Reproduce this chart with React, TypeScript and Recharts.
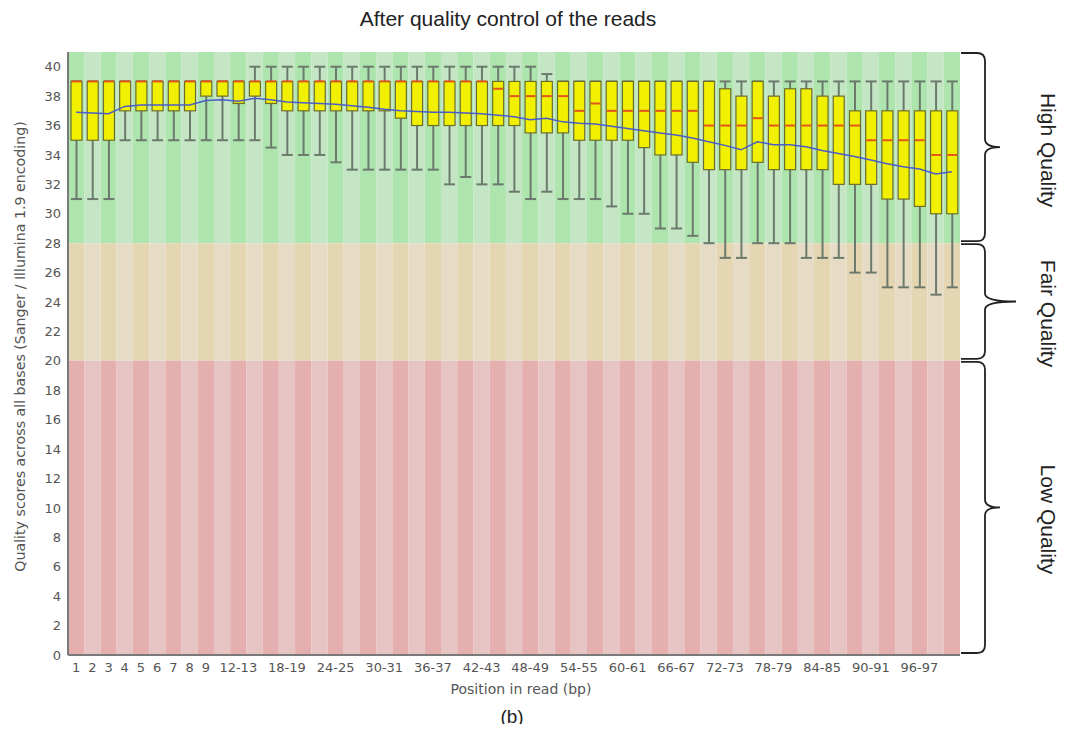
import React from 'react';
import { ComposedChart, Bar, Line, XAxis, YAxis, ReferenceArea } from 'recharts';

// Per-base quality (FastQC style)
const POSITIONS = [
    '1', '2', '3', '4', '5', '6', '7', '8', '9',
    '10-11', '12-13', '14-15', '16-17', '18-19', '20-21', '22-23', '24-25', '26-27', '28-29',
    '30-31', '32-33', '34-35', '36-37', '38-39', '40-41', '42-43', '44-45', '46-47', '48-49',
    '50-51', '52-53', '54-55', '56-57', '58-59', '60-61', '62-63', '64-65', '66-67', '68-69',
    '70-71', '72-73', '74-75', '76-77', '78-79', '80-81', '82-83', '84-85', '86-87', '88-89',
    '90-91', '92-93', '94-95', '96-97', '98-99', '100-101',
];

const SHOWN_TICKS = [
    '1', '2', '3', '4', '5', '6', '7', '8', '9',
    '12-13', '18-19', '24-25', '30-31', '36-37', '42-43', '48-49', '54-55',
    '60-61', '66-67', '72-73', '78-79', '84-85', '90-91', '96-97',
];

const LOWER = [
    31, 31, 31, 35, 35, 35, 35, 35, 35, 35, 35, 35, 34.5, 34, 34, 34, 33.5, 33, 33, 33,
    33, 33, 33, 32, 32.5, 32, 32, 31.5, 31, 31.5, 31, 31, 31, 30.5, 30, 30, 29, 29, 28.5, 28,
    27, 27, 28, 28, 28, 27, 27, 27, 26, 26, 25, 25, 25, 24.5, 25,
];
const Q1 = [
    35, 35, 35, 37, 37, 37, 37, 37, 38, 38, 37.5, 38, 37.5, 37, 37, 37, 37, 37, 37, 37,
    36.5, 36, 36, 36, 36, 36, 36, 36, 35.5, 35.5, 35.5, 35, 35, 35, 35, 34.5, 34, 34, 33.5, 33,
    33, 33, 33.5, 33, 33, 33, 33, 32, 32, 32, 31, 31, 30.5, 30, 30,
];
const MEDIAN = [
    39, 39, 39, 39, 39, 39, 39, 39, 39, 39, 39, 39, 39, 39, 39, 39, 39, 39, 39, 39,
    39, 39, 39, 39, 39, 39, 38.5, 38, 38, 38, 38, 37, 37.5, 37, 37, 37, 37, 37, 37, 36,
    36, 36, 36.5, 36, 36, 36, 36, 36, 36, 35, 35, 35, 35, 34, 34,
];
const Q3 = [
    39, 39, 39, 39, 39, 39, 39, 39, 39, 39, 39, 39, 39, 39, 39, 39, 39, 39, 39, 39,
    39, 39, 39, 39, 39, 39, 39, 39, 39, 39, 39, 39, 39, 39, 39, 39, 39, 39, 39, 39,
    38.5, 38, 39, 38, 38.5, 38.5, 38, 38, 37, 37, 37, 37, 37, 37, 37,
];
const UPPER = [
    39, 39, 39, 39, 39, 39, 39, 39, 39, 39, 39, 40, 40, 40, 40, 40, 40, 40, 40, 40,
    40, 40, 40, 40, 40, 40, 40, 40, 40, 39.5, 39, 39, 39, 39, 39, 39, 39, 39, 39, 39,
    39, 39, 39, 39, 39, 39, 39, 39, 39, 39, 39, 39, 39, 39, 39,
];
const MEAN = [
    36.9, 36.85, 36.8, 37.3, 37.4, 37.4, 37.4, 37.4, 37.7, 37.75, 37.65, 37.85, 37.75, 37.6, 37.55,
    37.5, 37.45, 37.35, 37.25, 37.1, 37.0, 36.95, 36.9, 36.9, 36.85, 36.8, 36.7, 36.6, 36.4, 36.5,
    36.25, 36.15, 36.1, 35.95, 35.8, 35.65, 35.5, 35.35, 35.15, 34.9, 34.65, 34.35, 34.9, 34.7, 34.7,
    34.55, 34.3, 34.1, 33.9, 33.65, 33.4, 33.2, 33.05, 32.7, 32.85,
];

const Y_TICKS = [0, 2, 4, 6, 8, 10, 12, 14, 16, 18, 20, 22, 24, 26, 28, 30, 32, 34, 36, 38, 40];
const Y_MAX = 41;
const Y_LABEL = 'Quality scores across all bases (Sanger / Illumina 1.9 encoding)';

const BANDS = [
    { name: 'High Quality', from: 28, to: Y_MAX, dark: '#aee5ae', light: '#c5e6c5', tip: 40, textDy: 3 },
    { name: 'Fair Quality', from: 20, to: 28, dark: '#e4d6b2', light: '#e6dcc6', tip: 56, textDy: 12 },
    { name: 'Low Quality', from: 0, to: 20, dark: '#e6afaf', light: '#e6c4c4', tip: 40, textDy: 12 },
];

const rows = POSITIONS.map((pos, i) => ({
    pos,
    low: LOWER[i],
    q1: Q1[i],
    median: MEDIAN[i],
    q3: Q3[i],
    high: UPPER[i],
    mean: MEAN[i],
    whisker: [LOWER[i], UPPER[i]],
}));

const SANS = '"DejaVu Sans", Verdana, sans-serif';
const ARIAL = '"Liberation Sans", Arial, sans-serif';

// whisker + box + median drawn inside the pixel span of the [low, high] bar
const BoxShape = (props: any) => {
    const { x, y, width, height, payload } = props;
    if (!payload) return null;
    const top = Math.min(y, y + height);
    const span = Math.abs(height);
    const range = payload.high - payload.low;
    const toY = (v: number) => top + ((payload.high - v) / range) * span;
    const cx = x + width / 2;
    const yHi = toY(payload.high);
    const yLo = toY(payload.low);
    const yQ3 = toY(payload.q3);
    const yQ1 = toY(payload.q1);
    const yMed = toY(payload.median);
    return (
        <g>
            <line x1={cx} x2={cx} y1={yHi} y2={yLo} stroke="#6b7a6c" strokeWidth={2} />
            <line x1={x} x2={x + width} y1={yHi} y2={yHi} stroke="#6b7a6c" strokeWidth={2} />
            <line x1={x} x2={x + width} y1={yLo} y2={yLo} stroke="#6b7a6c" strokeWidth={2} />
            <rect x={x} y={yQ3} width={width} height={yQ1 - yQ3} fill="#f0f000" stroke="#6e6e2c" strokeWidth={1.2} />
            <line x1={x + 0.6} x2={x + width - 0.6} y1={yMed} y2={yMed} stroke="#e2561c" strokeWidth={2} />
        </g>
    );
};

const BraceShape = (props: any) => {
    const { x, y, width, height, band } = props;
    const right = x + width;
    const top = y + 1;
    const bottom = y + height - 2;
    const mid = (top + bottom) / 2;
    const x0 = right + 1;
    const spine = right + 25;
    const tip = right + band.tip;
    const r = 8;
    const d = [
        `M ${x0} ${top}`,
        `L ${spine - r} ${top}`,
        `Q ${spine} ${top} ${spine} ${top + r}`,
        `L ${spine} ${mid - r}`,
        `Q ${spine} ${mid} ${tip} ${mid}`,
        `Q ${spine} ${mid} ${spine} ${mid + r}`,
        `L ${spine} ${bottom - r}`,
        `Q ${spine} ${bottom} ${spine - r} ${bottom}`,
        `L ${x0} ${bottom}`,
    ].join(' ');
    const tx = right + 88;
    const ty = mid + band.textDy;
    return (
        <g>
            <path d={d} fill="none" stroke="#222" strokeWidth={1.8} />
            <text
                x={tx}
                y={ty}
                transform={`rotate(90, ${tx}, ${ty})`}
                textAnchor="middle"
                dominantBaseline="central"
                fontFamily={ARIAL}
                fontSize={21}
                fill="#222"
            >
                {band.name}
            </text>
        </g>
    );
};

const YLabel = (props: any) => {
    const vb = props.viewBox || {};
    const x = vb.x + 12;
    const y = vb.y + vb.height / 2 - 7;
    return (
        <text
            x={x}
            y={y}
            transform={`rotate(-90, ${x}, ${y})`}
            textAnchor="middle"
            dominantBaseline="central"
            fontFamily={SANS}
            fontSize={14.2}
            fill="#555"
        >
            {Y_LABEL}
        </text>
    );
};

export default function App() {
    return (
        <div style={{ position: 'relative', width: 1052, height: 724, marginBottom: -8 }}>
            <div
                style={{
                    position: 'absolute',
                    top: 0,
                    left: 0,
                    width: 1000,
                    textAlign: 'center',
                    fontFamily: ARIAL,
                    fontSize: 21,
                    lineHeight: '22px',
                    color: '#222',
                }}
            >
                After quality control of the reads
            </div>

            <ComposedChart
                width={1052}
                height={716}
                data={rows}
                margin={{ top: 44, right: 100, bottom: 29, left: 0 }}
            >
                {POSITIONS.map((pos, i) =>
                    BANDS.map((band) => (
                        <ReferenceArea
                            key={`${pos}-${band.name}`}
                            x1={pos}
                            x2={pos}
                            y1={band.from}
                            y2={band.to}
                            fill={i % 2 === 0 ? band.dark : band.light}
                            fillOpacity={1}
                            stroke="none"
                        />
                    ))
                )}
                {BANDS.map((band) => (
                    <ReferenceArea
                        key={`brace-${band.name}`}
                        y1={band.from}
                        y2={band.to}
                        ifOverflow="visible"
                        shape={(p: any) => <BraceShape {...p} band={band} />}
                    />
                ))}
                <XAxis
                    dataKey="pos"
                    interval={0}
                    tickLine={false}
                    height={40}
                    axisLine={{ stroke: '#7a7a7a', strokeWidth: 2 }}
                    tick={{ fontSize: 13, fill: '#555', fontFamily: SANS }}
                    tickFormatter={(v: string) => (SHOWN_TICKS.includes(v) ? v : '')}
                    label={{
                        value: 'Position in read (bp)',
                        position: 'insideBottom',
                        offset: 1,
                        dx: 7,
                        fill: '#555',
                        fontSize: 14,
                        fontFamily: SANS,
                    }}
                />
                <YAxis
                    type="number"
                    domain={[0, Y_MAX]}
                    ticks={Y_TICKS}
                    interval={0}
                    width={60}
                    tickLine={false}
                    tickSize={5}
                    axisLine={{ stroke: '#7a7a7a', strokeWidth: 2 }}
                    tick={{ fontSize: 13, fill: '#555', fontFamily: SANS }}
                    label={{ content: YLabel }}
                />
                <Bar dataKey="whisker" barSize={11} shape={BoxShape} isAnimationActive={false} />
                <Line
                    type="linear"
                    dataKey="mean"
                    stroke="#4a5cc8"
                    strokeWidth={1.5}
                    dot={false}
                    isAnimationActive={false}
                />
            </ComposedChart>

            <div
                style={{
                    position: 'absolute',
                    top: 698,
                    left: 0,
                    width: 1008,
                    textAlign: 'center',
                    fontFamily: ARIAL,
                    fontSize: 19,
                    lineHeight: '22px',
                    color: '#222',
                }}
            >
                (b)
            </div>
        </div>
    );
}
